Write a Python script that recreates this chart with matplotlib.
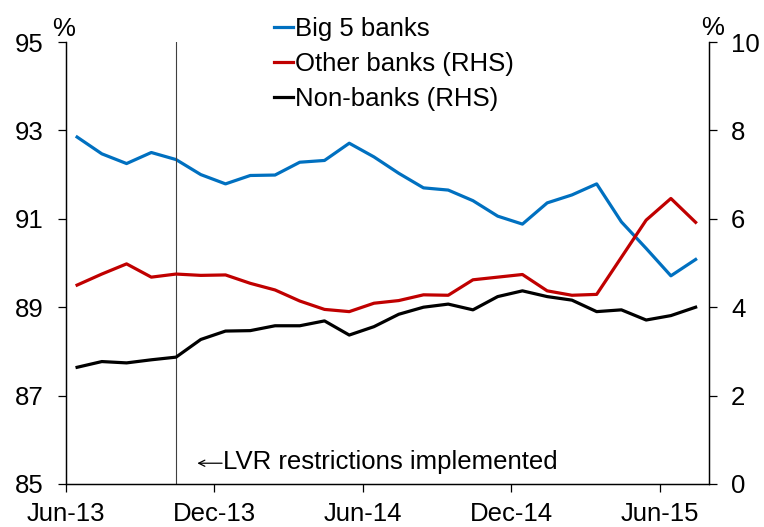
import matplotlib.pyplot as plt
import numpy as np

plt.rcParams['font.family'] = ['Liberation Sans', 'DejaVu Sans']

# monthly data, Jun-13 to Jul-15
big5 = [92.85, 92.47, 92.25, 92.50, 92.34, 92.00, 91.79, 91.98, 91.99, 92.28,
        92.32, 92.71, 92.40, 92.03, 91.70, 91.65, 91.41, 91.06, 90.88, 91.36,
        91.54, 91.79, 90.93, 90.33, 89.71, 90.08]
other = [4.50, 4.75, 4.98, 4.68, 4.75, 4.72, 4.73, 4.54, 4.39, 4.14,
         3.95, 3.90, 4.09, 4.15, 4.28, 4.27, 4.62, 4.68, 4.74, 4.37,
         4.27, 4.29, 5.13, 5.97, 6.46, 5.92]
nonbank = [2.64, 2.77, 2.74, 2.81, 2.87, 3.27, 3.46, 3.47, 3.58, 3.58,
           3.69, 3.37, 3.56, 3.84, 4.00, 4.07, 3.94, 4.24, 4.37, 4.24,
           4.16, 3.90, 3.94, 3.71, 3.81, 4.00]
tick_labels = ['Jun-13', 'Dec-13', 'Jun-14', 'Dec-14', 'Jun-15']
lvr_month = 4  # Oct-13

x = np.arange(len(big5)) + 0.46
fs = 18.5

fig = plt.figure(figsize=(7.64, 5.27), dpi=100)
ax = fig.add_axes([0.086, 0.0816, 0.842, 0.8387])
ax2 = ax.twinx()

l1, = ax.plot(x, big5, color='#0070C0', lw=2.3, label='Big 5 banks')
l2, = ax2.plot(x, other, color='#C00000', lw=2.3, label='Other banks (RHS)')
l3, = ax2.plot(x, nonbank, color='black', lw=2.3, label='Non-banks (RHS)')

ax.axvline(x[lvr_month], color='#404040', lw=0.8)
# arrow + label
xl = x[lvr_month]
ax.annotate('', xy=(xl + 0.86, 85.47), xytext=(xl + 1.86, 85.47),
            arrowprops=dict(arrowstyle='->', lw=0.9, color='black',
                            mutation_scale=11, shrinkA=0, shrinkB=0))
ax.text(xl + 1.88, 85.5, 'LVR restrictions implemented',
        fontsize=fs, va='center', ha='left')

ax.set_xlim(0, 26)
ax.set_ylim(85, 95)
ax2.set_ylim(0, 10)
ax.set_yticks(np.arange(85, 96, 2))
ax2.set_yticks(np.arange(0, 11, 2))
ax.set_xticks(np.arange(0, 25, 6))
ax.set_xticklabels(tick_labels)

for a in (ax, ax2):
    a.spines['top'].set_visible(False)
    for s in a.spines.values():
        s.set_linewidth(0.9)
ax.tick_params(axis='y', labelsize=fs, length=6, width=0.9, pad=10)
ax2.tick_params(axis='y', labelsize=fs, length=6, width=0.9, pad=10)
ax.tick_params(axis='x', labelsize=fs, length=6, width=0.9, pad=7)

fig.text(0.083, 0.945, '%', fontsize=fs, ha='center', va='center')
fig.text(0.933, 0.947, '%', fontsize=fs, ha='center', va='center')

fig.legend(handles=[l1, l2, l3], loc='upper left', bbox_to_anchor=(0.345, 0.987),
           frameon=False, fontsize=fs, handlelength=0.75, handletextpad=0.08,
           labelspacing=0.42, borderaxespad=0)

fig.savefig('out.png', dpi=100)
